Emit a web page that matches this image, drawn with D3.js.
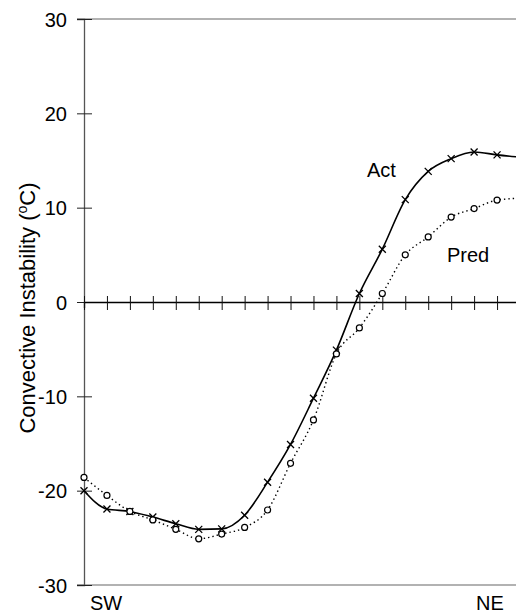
<!DOCTYPE html>
<html><head><meta charset="utf-8">
<script src="https://cdn.jsdelivr.net/npm/d3@7"></script>
<style>body{margin:0;background:#fff} text{font-family:"Liberation Sans",Arial,Helvetica,sans-serif;fill:#000}</style>
</head><body><svg id="c" width="516" height="613"></svg>
<script>
// station index along the SW -> NE transect
const stations = [0,1,2,3,4,5,6,7,8,9,10,11,12,13,14,15,16,17,18,19];
const actual = [-20.0,-21.95,-22.2,-22.8,-23.5,-24.1,-24.05,-22.6,-19.1,-15.1,-10.2,-5.1,0.9,5.6,10.85,13.85,15.2,15.9,15.6,15.35];
const predicted = [-18.6,-20.5,-22.2,-23.1,-24.1,-25.1,-24.6,-23.9,-22.05,-17.1,-12.5,-5.5,-2.75,0.9,5.0,6.9,9.0,9.9,10.8,11.0];
const yTicks = [-30,-20,-10,0,10,20,30];
const endLabels = ["SW","NE"];
const seriesNames = ["Act","Pred"];

const svg = d3.select("#c");
const x = d3.scaleLinear().domain([0,19]).range([84,520]);
const y = d3.scaleLinear().domain([-30,30]).range([585,19]);

// frame lines top & bottom
[30,-30].forEach(v=>{
  svg.append("line").attr("x1",77).attr("x2",516).attr("y1",y(v)).attr("y2",y(v))
    .attr("stroke","#666").attr("stroke-width",1.2);
});

// y axis
const ya = svg.append("g").attr("transform",`translate(${x(0)},0)`)
  .call(d3.axisLeft(y).tickValues(yTicks).tickSize(7).tickPadding(10).tickFormat(d=>String(d)));
ya.select(".domain").attr("stroke","#555").attr("stroke-width",1.3);
ya.selectAll(".tick line").attr("x1",-7).attr("x2",8).attr("stroke","#222");
ya.selectAll(".tick text").attr("font-size",20).attr("font-family","Liberation Sans, Arial, sans-serif").attr("dy","0.35em");

// x axis on zero line
const xa = svg.append("g").attr("transform",`translate(0,${y(0)})`)
  .call(d3.axisBottom(x).tickValues(stations).tickFormat(""));
xa.select(".domain").attr("stroke","#000").attr("stroke-width",1.3);
xa.selectAll(".tick line").attr("y1",-6).attr("y2",8).attr("stroke","#111");

// y label
const yl = svg.append("text").attr("transform","translate(35,308) rotate(-90)")
  .attr("text-anchor","middle").attr("font-size",22);
yl.append("tspan").text("Convective Instability (");
yl.append("tspan").attr("font-size",14).attr("dy","-0.55em").text("o");
yl.append("tspan").attr("dy","0.35em").text("C)");

// curves
const line = d3.line().x((d,i)=>x(stations[i])).y(d=>y(d)).curve(d3.curveMonotoneX);
svg.append("path").datum(actual).attr("d",line).attr("fill","none")
  .attr("stroke","#000").attr("stroke-width",1.6);
svg.append("path").datum(predicted).attr("d",line).attr("fill","none")
  .attr("stroke","#000").attr("stroke-width",1.4).attr("stroke-dasharray","1.4,3");

// markers
svg.append("g").selectAll("path").data(actual).join("path")
  .attr("transform",(d,i)=>`translate(${x(stations[i])},${y(d)})`)
  .attr("d","M-3.5,-3.5L3.5,3.5M-3.5,3.5L3.5,-3.5")
  .attr("stroke","#000").attr("stroke-width",1.3).attr("fill","none");
svg.append("g").selectAll("circle").data(predicted).join("circle")
  .attr("cx",(d,i)=>x(stations[i])).attr("cy",d=>y(d)).attr("r",3)
  .attr("fill","#fff").attr("stroke","#000").attr("stroke-width",1.2);

// series labels
svg.append("text").attr("x",367).attr("y",177).attr("font-size",20).text(seriesNames[0]);
svg.append("text").attr("x",447).attr("y",262).attr("font-size",20).text(seriesNames[1]);

// end labels
svg.append("text").attr("x",90).attr("y",610).attr("font-size",20).text(endLabels[0]);
svg.append("text").attr("x",476).attr("y",610).attr("font-size",20).text(endLabels[1]);
</script></body></html>
